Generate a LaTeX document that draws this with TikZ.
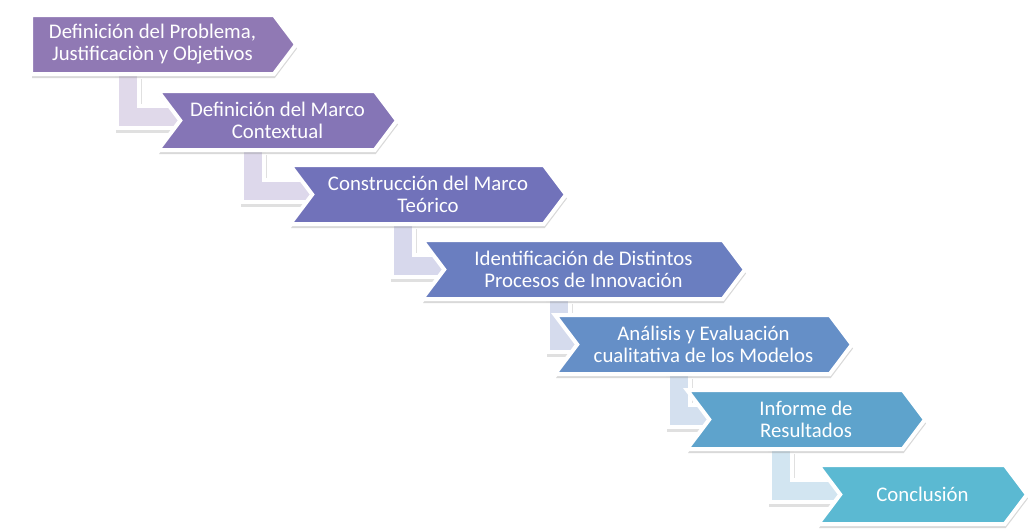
\documentclass[tikz,border=0pt]{standalone}
\usepackage{fontspec}
\setmainfont{Carlito}
\usetikzlibrary{shapes.symbols,arrows.meta,shadows,backgrounds}

\definecolor{stageA}{RGB}{144,121,180}
\definecolor{stageB}{RGB}{133,117,182}
\definecolor{stageC}{RGB}{113,114,186}
\definecolor{stageD}{RGB}{106,126,192}
\definecolor{stageE}{RGB}{101,143,199}
\definecolor{stageF}{RGB}{94,163,204}
\definecolor{stageG}{RGB}{91,185,210}

\begin{document}
\begin{tikzpicture}
	[
		x=1pt, y=-1pt,
		stage/.style = {shape=signal, signal to=east, signal from=west, signal pointer angle=106,
			minimum height=59pt, inner sep=0pt, align=center, text=white, draw=white, line width=4pt,
			font=\fontsize{20.8}{22}\selectfont,
			drop shadow={shadow xshift=1pt, shadow yshift=-4pt, opacity=0.3}},
		link/.style = {line width=18pt, -{Triangle[length=14pt,width=34pt]}},
		linkedge/.style = {white, line width=26pt, -{Triangle[length=18pt,width=44pt]}},
		linkshade/.style = {black, opacity=0.12, line width=26pt, -{Triangle[length=18pt,width=44pt]}},
	]

  \useasboundingbox (0,0) rectangle (1028,531);

  \node[stage, fill=stageA, signal from=nowhere, minimum width=265pt] (def) at (152.5,44.5)
  	{Definición del Problema,\\ Justificaciòn y Objetivos};
  \node[stage, fill=stageB, minimum width=239pt] (ctx) at (277.5,120.5)
  	{Definición del Marco\\ Contextual};
  \node[stage, fill=stageC, minimum width=276pt] (teo) at (428,194.5)
  	{Construcción del Marco\\ Teórico};
  \node[stage, fill=stageD, minimum width=323pt] (ide) at (583.5,269.5)
  	{Identificación de Distintos\\ Procesos de Innovación};
  \node[stage, fill=stageE, minimum width=297pt] (ana) at (703.5,344.5)
  	{Análisis y Evaluación\\ cualitativa de los Modelos};
  \node[stage, fill=stageF, minimum width=238pt] (inf) at (806,419.5)
  	{Informe de\\ Resultados};
  \node[stage, fill=stageG, minimum width=209pt] (con) at (922.5,494.5)
  	{Conclusión};

  % bent arrows behind the steps
  \begin{scope}[on background layer]
  \foreach \a/\b/\c in {def/ctx/stageA, ctx/teo/stageB, teo/ide/stageC, ide/ana/stageD, ana/inf/stageE, inf/con/stageF}{
  	\draw[linkshade] ([xshift=-24pt,yshift=-3pt]\a.south) |- ([xshift=23pt,yshift=1pt]\b.west);
  	\draw[linkedge] ([xshift=-25pt]\a.south) |- ([xshift=22pt,yshift=4pt]\b.west);
  	\draw[link, draw=\c!28!white] ([xshift=-25pt]\a.south) |- ([xshift=22pt,yshift=4pt]\b.west);
  }
  \end{scope}

\end{tikzpicture}
\end{document}
